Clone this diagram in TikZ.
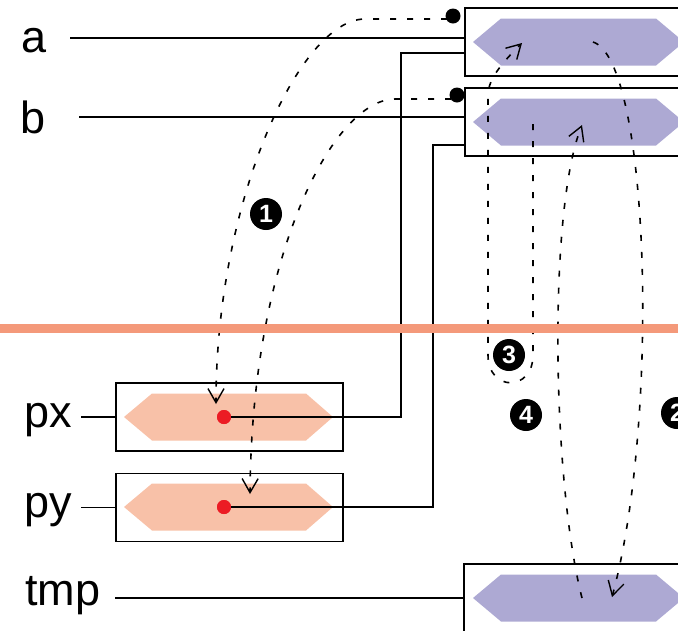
\documentclass[tikz,border=0pt]{standalone}
\usepackage{fontspec}
\setmainfont{Liberation Sans}
\usetikzlibrary{arrows.meta}
\definecolor{purp}{HTML}{ADA9D3}
\definecolor{peach}{HTML}{F8C1A8}
\definecolor{salmon}{HTML}{F4997A}
\definecolor{reddot}{HTML}{EC1C24}
\begin{document}
\begin{tikzpicture}[x=1pt,y=-1pt,
  box/.style={draw, line width=1.5pt, minimum height=68pt, inner sep=0pt},
  wire/.style={line width=1.5pt},
  dline/.style={line width=1.6pt, dash pattern=on 6pt off 11pt, -{Straight Barb[length=14pt,width=16pt,line width=1.4pt]}},
  lab/.style={font=\fontsize{45}{50}\selectfont, anchor=base west, inner sep=0pt},
  num/.style={circle, fill=black, text=white, inner sep=0pt, minimum size=32pt, font=\fontsize{25}{25}\selectfont\bfseries},
  bdot/.style={circle, fill=black, inner sep=0pt, minimum size=15pt},
  rdot/.style={circle, fill=reddot, inner sep=0pt, minimum size=14pt},
]
\clip (0,0) rectangle (678,630);
% boxes
\node[box, minimum width=240pt] (boxa) at (585,42) {};
\node[box, minimum width=240pt] (boxb) at (585,122) {};
\node[box, minimum width=240pt] (boxt) at (584,598) {};
\node[box, minimum width=227pt] (boxpx) at (229.5,417) {};
\node[box, minimum width=227pt] (boxpy) at (229.5,507.5) {};
% hexagons
\fill[purp] (473,42) -- ++(28,-23.5) -- ++(155,0) -- ++(28,23.5) -- ++(-28,23.5) -- ++(-155,0) -- cycle;
\fill[purp] (473,122) -- ++(28,-23.5) -- ++(155,0) -- ++(28,23.5) -- ++(-28,23.5) -- ++(-155,0) -- cycle;
\fill[purp] (473,598) -- ++(28,-23.5) -- ++(155,0) -- ++(28,23.5) -- ++(-28,23.5) -- ++(-155,0) -- cycle;
\fill[peach] (124,417) -- ++(28,-23.5) -- ++(154,0) -- ++(27,23.5) -- ++(-27,23.5) -- ++(-154,0) -- cycle;
\fill[peach] (124,507) -- ++(28,-23.5) -- ++(154,0) -- ++(27,23.5) -- ++(-27,23.5) -- ++(-154,0) -- cycle;
% labels
\node[lab] (la) at (21,52) {a};
\node[lab] (lb) at (20,133) {b};
\node[lab] (lpx) at (24,427) {px};
\node[lab] (lpy) at (24,517) {py};
\node[lab] (lt) at (25,605) {tmp};
% dots
\node[rdot] (pxdot) at (224,417) {};
\node[rdot] (pydot) at (224,507) {};
\node[bdot] (adot) at (453,16) {};
\node[bdot] (bdot) at (457,95) {};
% wires
\coordinate (aw) at (70,38);
\coordinate (bw) at (79,117);
\coordinate (pxw) at (81,417);
\coordinate (pyw) at (81,507.5);
\coordinate (tw) at (115,598);
\coordinate (pxup) at (401,53);
\coordinate (pyup) at (433,145);
\draw[wire] (aw) -- (aw -| boxa.west);
\draw[wire] (bw) -- (bw -| boxb.west);
\draw[wire] (pxw) -- (boxpx.west);
\draw[wire] (pyw) -- (boxpy.west);
\draw[wire] (tw) -- (boxt.west);
\draw[wire] (pxdot.center) -| (pxup) -- (pxup -| boxa.west);
\draw[wire] (pydot.center) -| (pyup) -- (pyup -| boxb.west);
\node[rdot] at (pxdot) {};
\node[rdot] at (pydot) {};
% dashed connectors
\coordinate (a1) at (447,19);
\coordinate (px1) at (216,404);
\coordinate (b1) at (451,99);
\coordinate (py1) at (250,494);
\coordinate (b3) at (533,124);
\coordinate (a3) at (522,43);
\coordinate (t4) at (582,598);
\coordinate (b4) at (582,125);
\coordinate (a2) at (593,42);
\coordinate (t2) at (612,597);
\draw[dline] (a1) -- (365,19) .. controls (300,19) and (216,200) .. (px1);
\draw[dline] (b1) -- (395,99) .. controls (335,99) and (252,250) .. (py1);
\draw[dline] (b3) -- (533,355) .. controls (533,392) and (488,392) .. (488,355) -- (488,95) .. controls (488,78) and (505,60) .. (a3);
\draw[dline] (t4) .. controls (552,480) and (548,210) .. (b4);
\draw[dline] (a2) .. controls (650,60) and (660,420) .. (t2);
% numbers
\node[num] (n1) at (266,214) {1};
\node[num] (n3) at (509,355) {3};
\node[num] (n4) at (526,415) {4};
\node[num] (n2) at (677,413) {2};
% separator
\draw[salmon, line width=9pt] (0,328) -- (678,328);
\end{tikzpicture}
\end{document}
